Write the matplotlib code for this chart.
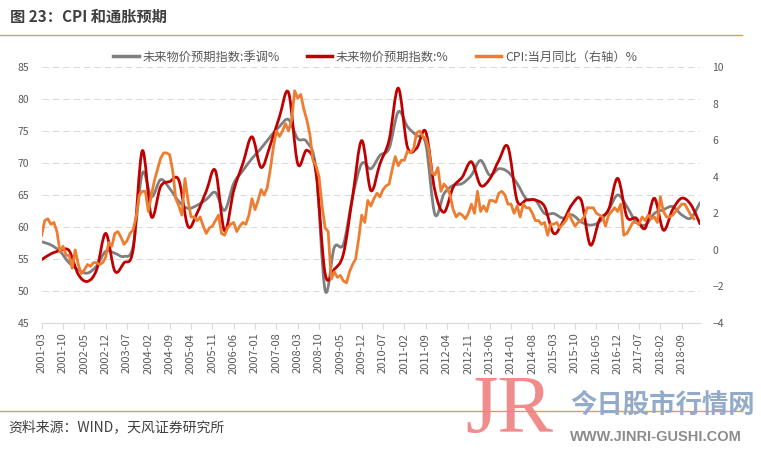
import matplotlib
matplotlib.use("Agg")
import matplotlib.pyplot as plt
from matplotlib.path import Path
from matplotlib.patches import PathPatch
from matplotlib.lines import Line2D
import numpy as np
import pandas as pd

plt.rcParams['font.family'] = ['Noto Sans CJK SC', 'DejaVu Sans']

# monthly category axis 2001-03 .. 2019-03
months = [p.strftime('%Y-%m') for p in pd.period_range('2001-03', '2019-03', freq='M')]

# 未来物价预期指数 (quarterly, 2001Q1 .. 2019Q1)
expect_raw = [
    54.9, 55.8, 56.3, 56.3,
    52.6, 51.5, 53.3, 59.0,
    53.1, 54.4, 56.5, 71.9,
    61.6, 66.3, 67.1, 67.3,
    60.1, 62.2, 65.6, 68.8,
    59.4, 65.7, 69.9, 74.1,
    69.3, 72.8, 77.2, 81.0,
    69.9, 72.0, 68.5, 52.7,
    53.4, 55.8, 64.7, 73.5,
    65.7, 69.9, 73.6, 81.7,
    72.5, 72.3, 74.9, 65.7,
    62.3, 66.2, 67.8, 70.2,
    66.5, 67.5, 70.4, 72.5,
    64.1, 64.2, 64.2, 63.2,
    59.0, 60.8, 63.5, 64.2,
    57.2, 61.1, 62.7, 67.6,
    61.6, 61.4, 59.8, 64.5,
    59.5, 62.7, 64.5, 63.5,
    60.5,
]

# 未来物价预期指数:季调
expect_sa = [
    57.7, 57.2, 56.2, 54.4,
    53.3, 52.8, 53.9, 56.2,
    55.9, 55.4, 57.0, 68.4,
    64.7, 67.4, 66.0, 64.0,
    62.9, 63.4, 64.3, 65.4,
    62.6, 66.8, 68.8, 70.7,
    72.3, 74.1, 75.7, 76.8,
    73.8, 73.3, 69.0, 50.1,
    56.8, 57.3, 64.7, 69.9,
    69.1, 71.2, 72.3, 78.0,
    75.7, 74.3, 73.0, 62.0,
    65.2, 66.5, 66.8, 68.1,
    70.4, 68.1, 69.1, 68.6,
    66.8, 64.4, 64.2, 62.1,
    62.1, 61.4, 61.9, 60.8,
    60.3, 60.8, 62.7, 65.0,
    63.2, 60.8, 60.3, 62.1,
    62.7, 63.2, 61.9, 61.4,
    63.8,
]

# CPI:当月同比, 2001-03 .. 2019-01
cpi = [
    0.8, 1.6, 1.7, 1.4, 1.5, 1.0, -0.1, 0.2, -0.3, -0.3,
    -1.0, 0.0, -0.8, -1.3, -1.1, -0.8, -0.9, -0.7, -0.7, -0.8, -0.7, -0.4,
    0.4, 0.2, 0.9, 1.0, 0.7, 0.3, 0.5, 0.9, 1.1, 1.8, 3.0, 3.2,
    3.2, 2.1, 3.0, 3.8, 4.4, 5.0, 5.3, 5.3, 5.2, 4.3, 2.8, 2.4,
    1.9, 3.9, 2.7, 1.8, 1.8, 1.6, 1.8, 1.3, 0.9, 1.2, 1.3, 1.6,
    1.9, 0.9, 0.8, 1.2, 1.4, 1.5, 1.0, 1.3, 1.5, 1.4, 1.9, 2.8,
    2.2, 2.7, 3.3, 3.0, 3.4, 4.4, 5.6, 6.5, 6.2, 6.5, 6.9, 6.5,
    7.1, 8.7, 8.3, 8.5, 7.7, 7.1, 6.3, 4.9, 4.6, 4.0, 2.4, 1.2,
    1.0, -1.6, -1.2, -1.5, -1.4, -1.7, -1.8, -1.2, -0.8, -0.5, 0.6, 1.9,
    1.5, 2.7, 2.4, 2.8, 3.1, 2.9, 3.3, 3.5, 3.6, 4.4, 5.1, 4.6,
    4.9, 4.9, 5.4, 5.3, 5.5, 6.4, 6.5, 6.2, 6.1, 5.5, 4.2, 4.1,
    4.5, 3.2, 3.6, 3.4, 3.0, 2.2, 1.8, 2.0, 1.9, 1.7, 2.0, 2.5,
    2.0, 3.2, 2.1, 2.4, 2.1, 2.7, 2.7, 2.6, 3.1, 3.2, 3.0, 2.5,
    2.5, 2.0, 2.4, 1.8, 2.5, 2.3, 2.3, 2.0, 1.6, 1.6, 1.4, 1.5,
    0.8, 1.4, 1.4, 1.5, 1.2, 1.4, 1.6, 2.0, 1.6, 1.3, 1.5, 1.6,
    1.8, 2.3, 2.3, 2.3, 2.0, 1.9, 1.8, 1.3, 1.9, 2.1, 2.3, 2.1,
    2.5, 0.8, 0.9, 1.2, 1.5, 1.5, 1.4, 1.8, 1.6, 1.9, 1.7, 1.8,
    1.5, 2.9, 2.1, 1.8, 1.8, 1.9, 2.1, 2.3, 2.5, 2.5, 2.2, 1.9,
    1.7,
]

labels = ['未来物价预期指数:季调%', '未来物价预期指数:%', 'CPI:当月同比（右轴）%']

GRAY = '#7f7f7f'
RED = '#c00000'
ORANGE = '#ed7d31'
TXT = '#595959'


def smooth_path(x, y):
    # excel style smoothed line: cubic bezier through every point
    x = np.asarray(x, float)
    y = np.asarray(y, float)
    px = np.concatenate([[x[0]], x, [x[-1]]])
    py = np.concatenate([[y[0]], y, [y[-1]]])
    verts = [(x[0], y[0])]
    codes = [Path.MOVETO]
    for i in range(len(x) - 1):
        c1 = (x[i] + (px[i + 2] - px[i]) / 6, y[i] + (py[i + 2] - py[i]) / 6)
        c2 = (x[i + 1] - (px[i + 3] - px[i + 1]) / 6, y[i + 1] - (py[i + 3] - py[i + 1]) / 6)
        verts += [c1, c2, (x[i + 1], y[i + 1])]
        codes += [Path.CURVE4] * 3
    return Path(verts, codes)


fig = plt.figure(figsize=(7.61, 4.5), dpi=100)
ax = fig.add_axes([41.7 / 761, 1 - 323 / 450, (700 - 41.7) / 761, 256 / 450])

qx = np.arange(len(expect_sa)) * 3
ax.add_patch(PathPatch(smooth_path(qx, expect_sa), fill=False, edgecolor=GRAY, lw=2.0,
                       capstyle='round', joinstyle='round', zorder=3))
ax.add_patch(PathPatch(smooth_path(qx, expect_raw), fill=False, edgecolor=RED, lw=2.0,
                       capstyle='round', joinstyle='round', zorder=4))

ax.set_xlim(0, len(months) - 1)
ax.set_ylim(45, 85)
ax.set_yticks(range(45, 86, 5))
tick_pos = list(range(0, len(months) - 6, 7))
ax.set_xticks(tick_pos)
ax.set_xticklabels([months[i] for i in tick_pos], rotation=90)
ax.tick_params(axis='x', length=4, color='#d9d9d9', pad=3, labelsize=8, labelcolor=TXT)
ax.tick_params(axis='y', length=0, pad=9, labelsize=7.5, labelcolor=TXT)
ax.yaxis.grid(True, color='#d9d9d9', lw=0.75, ls=(0, (6, 4)))
ax.set_axisbelow(True)
for s in ['top', 'left', 'right']:
    ax.spines[s].set_visible(False)
ax.spines['bottom'].set_color('#d9d9d9')

ax2 = ax.twinx()
ax2.plot(np.arange(len(cpi)), cpi, color=ORANGE, lw=2.0, solid_joinstyle='round')
ax2.set_ylim(-4, 10)
ax2.set_yticks(range(-4, 11, 2))
ax2.tick_params(axis='y', length=0, pad=9, labelsize=7.5, labelcolor=TXT)
for s in ax2.spines.values():
    s.set_visible(False)

handles = [Line2D([], [], color=c, lw=2.5) for c in (GRAY, RED, ORANGE)]
fig.legend(handles, labels, loc='center', bbox_to_anchor=(375 / 761, 1 - 57 / 450), ncol=3,
           frameon=False, fontsize=8.8, labelcolor=TXT, handlelength=2.1, handletextpad=0.3,
           columnspacing=2.2)

# header / footer
fig.text(10 / 761, 1 - 17 / 450, '图 23：CPI 和通胀预期', fontsize=11, fontweight='bold',
         color='#404040', va='center')
fig.add_artist(Line2D([0, 742 / 761], [1 - 35 / 450] * 2, color='#d7a05a', lw=1))
fig.add_artist(Line2D([0, 742 / 761], [1 - 411 / 450] * 2, color='#d7a05a', lw=1))
fig.text(8 / 761, 1 - 427 / 450, '资料来源：WIND，天风证券研究所', fontsize=10,
         color='#404040', va='center')

# watermark
fig.text(465 / 761, 1 - 432 / 450, 'JR', family='Liberation Serif', fontsize=60,
         color='#f08080', alpha=0.9, va='baseline')
fig.text(570 / 761, 1 - 405 / 450, '今日股市行情网', fontsize=19, fontweight='bold',
         color='#93abc9', va='center')
fig.text(570 / 761, 1 - 437 / 450, 'WWW.JINRI-GUSHI.COM', family='Liberation Sans',
         fontsize=10.5, fontweight='bold', color='#8c8c8c', va='center')

fig.savefig('out.png', dpi=100)
